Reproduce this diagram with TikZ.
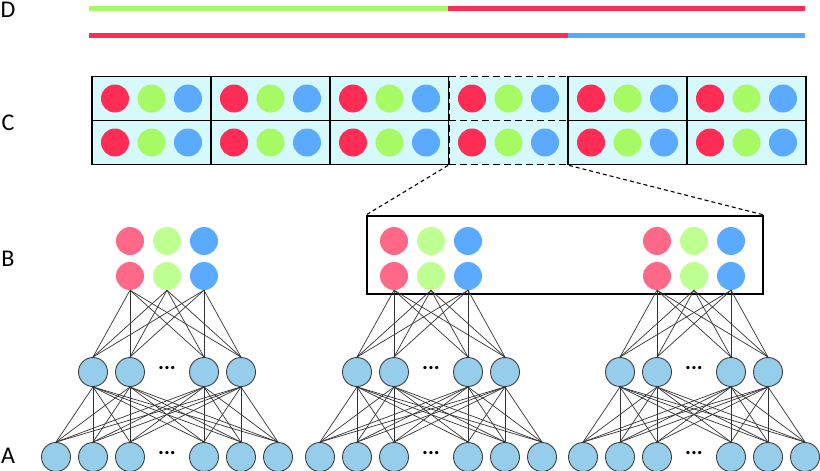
\documentclass[tikz,border=0pt]{standalone}
\usepackage{fontspec}
\setmainfont{Carlito}
\definecolor{dred}{RGB}{255,45,85}
\definecolor{dgreen}{RGB}{166,250,100}
\definecolor{dblue}{RGB}{90,170,255}
\definecolor{pred}{RGB}{255,105,135}
\definecolor{pgreen}{RGB}{190,255,145}
\definecolor{cellcyan}{RGB}{214,249,251}
\definecolor{unitblue}{RGB}{150,205,235}
\begin{document}
\begin{tikzpicture}[x=1pt,y=-1pt,
        unit/.style={circle,draw=black!75,fill=unitblue,minimum size=29pt,inner sep=0pt,line width=0.9pt},
        ball/.style={circle,fill=#1,minimum size=28pt,inner sep=0pt},
        cell/.style={draw,line width=1.8pt,fill=cellcyan,minimum width=119pt,minimum height=44pt,inner sep=0pt},
        cut/.style={dash pattern=on 7pt off 4pt},
        link/.style={draw=black!80,line width=0.7pt},
        lab/.style={font=\fontsize{24}{26}\selectfont},
        more/.style={font=\fontsize{22}{22}\selectfont\bfseries}]
            \useasboundingbox (0,0) rectangle (820,471);

            % labels
            \node[lab] (labD) at (8,10) {D};
            \node[lab] (labC) at (8,123) {C};
            \node[lab] (labB) at (8,259) {B};
            \node[lab] (labA) at (8,456) {A};

            % D: bars
            \coordinate (d1a) at (89,8);
            \coordinate (d1b) at (448,8);
            \coordinate (d1c) at (805,8);
            \coordinate (d2a) at (89,35);
            \coordinate (d2b) at (568,35);
            \coordinate (d2c) at (805,35);
            \draw[line width=5pt,dgreen] (d1a) -- (d1b);
            \draw[line width=5pt,dred] (d1b) -- (d1c);
            \draw[line width=5pt,dred] (d2a) -- (d2b);
            \draw[line width=5pt,dblue] (d2b) -- (d2c);

            % C: cells
            \foreach \i/\brd in {0/solid,1/solid,2/solid,3/cut,4/solid,5/solid} {
                \foreach \j in {0,1} {
                    \node[cell,\brd] (c\i\j) at ({151.5+119*\i},{98.5+44*\j}) {};
                    \foreach \k/\col in {0/dred,1/dgreen,2/dblue}
                        \node[ball=\col] (c\i\j\k) at ({151.5+119*\i+36.5*(\k-1)},{98.5+44*\j}) {};
                }
            }

            % B: box
            \node[draw,line width=2pt,minimum width=396pt,minimum height=78pt,inner sep=0pt] (bbox) at (565,255) {};
            \draw[dash pattern=on 4pt off 3pt,line width=1.1pt] (c31.south west) -- (bbox.north west);
            \draw[dash pattern=on 4pt off 3pt,line width=1.1pt] (c31.south east) -- (bbox.north east);

            % networks
            \foreach \net/\cx in {0/167,1/431,2/694} {
                \foreach \k/\col in {0/pred,1/pgreen,2/dblue} {
                    \node[ball=\col] (ot\net\k) at ({\cx+37*(\k-1)},241) {};
                    \node[ball=\col] (ob\net\k) at ({\cx+37*(\k-1)},276) {};
                }
                \foreach \k/\dx in {1/-74,2/-37,3/37,4/74}
                    \node[unit] (h\net\k) at ({\cx+\dx},372) {};
                \foreach \k/\dx in {1/-111,2/-74,3/-37,4/37,5/74,6/111}
                    \node[unit] (in\net\k) at ({\cx+\dx},457) {};
                \node[more] (hd\net) at (\cx,368) {...};
                \node[more] (id\net) at (\cx,453) {...};
                \foreach \a in {0,1,2}
                    \foreach \b in {1,...,4}
                        \draw[link] (ob\net\a.south) -- (h\net\b.north);
                \foreach \a in {1,...,4}
                    \foreach \b in {1,...,6}
                        \draw[link] (h\net\a.south) -- (in\net\b.north);
            }
        \end{tikzpicture}
\end{document}
